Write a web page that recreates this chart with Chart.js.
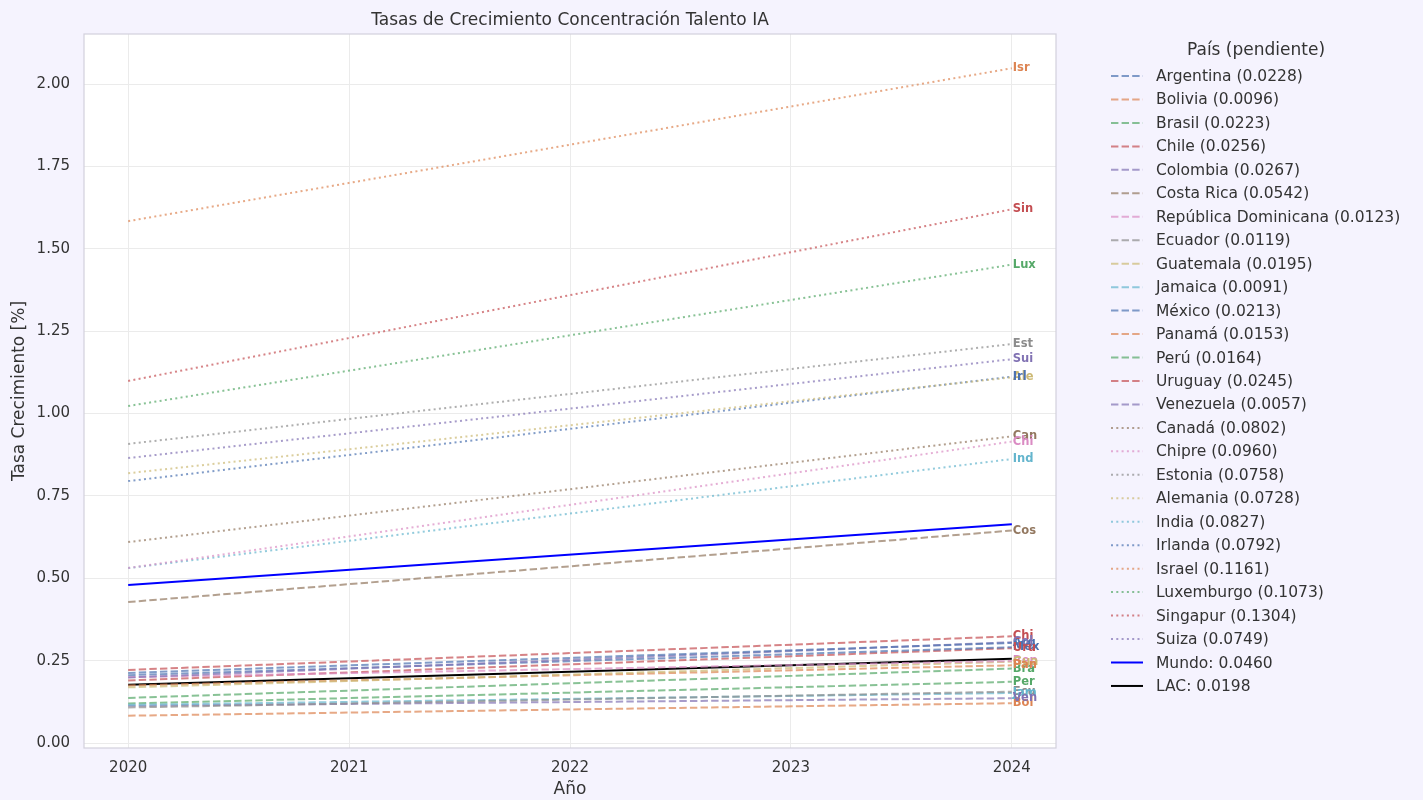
<!DOCTYPE html>
<html>
<head>
<meta charset="utf-8">
<script src="https://cdn.jsdelivr.net/npm/chart.js@4"></script>
<style>
  html, body { margin: 0; padding: 0; background: #f5f3fe; }
  #wrap { width: 1423px; height: 800px; position: relative; }
</style>
</head>
<body>
<div id="wrap"><canvas id="chart"></canvas></div>
<script>
// years on the x axis
var years = [2020, 2024];
var xTicks = [2020, 2021, 2022, 2023, 2024];

// LAC countries (dashed): name, slope from legend, value at 2020 and 2024
var lacNames = ["Argentina", "Bolivia", "Brasil", "Chile", "Colombia", "Costa Rica", "República Dominicana",
                "Ecuador", "Guatemala", "Jamaica", "México", "Panamá", "Perú", "Uruguay", "Venezuela"];
var lacSlopes = ["0.0228", "0.0096", "0.0223", "0.0256", "0.0267", "0.0542", "0.0123",
                 "0.0119", "0.0195", "0.0091", "0.0213", "0.0153", "0.0164", "0.0245", "0.0057"];
var lacStart = [0.213, 0.083, 0.137, 0.222, 0.199, 0.428, 0.200, 0.108, 0.169, 0.116, 0.206, 0.175, 0.120, 0.190, 0.113];
var lacEnd   = [0.304, 0.121, 0.226, 0.324, 0.306, 0.645, 0.249, 0.156, 0.247, 0.152, 0.291, 0.236, 0.186, 0.288, 0.136];

// reference countries (dotted)
var refNames = ["Canadá", "Chipre", "Estonia", "Alemania", "India", "Irlanda", "Israel", "Luxemburgo", "Singapur", "Suiza"];
var refSlopes = ["0.0802", "0.0960", "0.0758", "0.0728", "0.0827", "0.0792", "0.1161", "0.1073", "0.1304", "0.0749"];
var refStart = [0.610, 0.531, 0.908, 0.819, 0.531, 0.795, 1.584, 1.023, 1.099, 0.865];
var refEnd   = [0.931, 0.915, 1.211, 1.110, 0.862, 1.112, 2.048, 1.452, 1.620, 1.165];

var mundo = [0.480, 0.664];
var lac = [0.177, 0.256];

var yTicks = [0, 0.25, 0.5, 0.75, 1.0, 1.25, 1.5, 1.75, 2.0];

var palette = ["76,114,176", "221,132,82", "85,168,104", "196,78,82", "129,114,179",
               "147,120,96", "218,139,195", "140,140,140", "204,185,116", "100,181,205"];

var datasets = [];
function addLine(shortLbl, legendText, v0, v1, rgb, dash) {
    datasets.push({
        label: legendText,
        shortLabel: shortLbl,
        data: [{x: years[0], y: v0}, {x: years[1], y: v1}],
        borderColor: "rgba(" + rgb + ",0.7)",
        labelColor: "rgb(" + rgb + ")",
        borderWidth: 2,
        borderDash: dash,
        pointRadius: 0,
        fill: false
    });
}
for (var i = 0; i < lacNames.length; i++) {
    addLine(lacNames[i].substring(0, 3), lacNames[i] + " (" + lacSlopes[i] + ")",
            lacStart[i], lacEnd[i], palette[i % 10], [7.4, 3.2]);
}
for (var j = 0; j < refNames.length; j++) {
    addLine(refNames[j].substring(0, 3), refNames[j] + " (" + refSlopes[j] + ")",
            refStart[j], refEnd[j], palette[(lacNames.length + j) % 10], [2, 3.3]);
}
datasets.push({label: "Mundo: 0.0460", data: [{x: years[0], y: mundo[0]}, {x: years[1], y: mundo[1]}],
               borderColor: "#0000ff", borderWidth: 2, pointRadius: 0, borderDash: []});
datasets.push({label: "LAC: 0.0198", data: [{x: years[0], y: lac[0]}, {x: years[1], y: lac[1]}],
               borderColor: "#000000", borderWidth: 2, pointRadius: 0, borderDash: []});

var FONT = "'DejaVu Sans', sans-serif";
var TXT = "#333333";

// plot background, end labels, title and legend
var decor = {
    id: "decor",
    beforeDraw: function(chart) {
        var c = chart.ctx, a = chart.chartArea;
        c.save();
        c.fillStyle = "#ffffff";
        c.fillRect(a.left, a.top, a.right - a.left, a.bottom - a.top);
        c.restore();
    },
    afterDraw: function(chart) {
        var c = chart.ctx, a = chart.chartArea;
        var xs = chart.scales.x, ys = chart.scales.y;
        c.save();
        // frame
        c.strokeStyle = "#d3d1dc";
        c.lineWidth = 1.2;
        c.strokeRect(a.left, a.top, a.right - a.left, a.bottom - a.top);

        // end labels
        c.font = "bold 11.5px " + FONT;
        c.textBaseline = "middle";
        c.textAlign = "left";
        chart.data.datasets.forEach(function(ds) {
            if (!ds.shortLabel) return;
            var p = ds.data[ds.data.length - 1];
            c.fillStyle = ds.labelColor;
            c.fillText(ds.shortLabel, xs.getPixelForValue(p.x) + 1, ys.getPixelForValue(p.y));
        });

        // title
        c.fillStyle = TXT;
        c.font = "17px " + FONT;
        c.textAlign = "center";
        c.fillText("Tasas de Crecimiento Concentración Talento IA", (a.left + a.right) / 2, 21);

        // legend
        c.fillText("País (pendiente)", 1256, 51);
        c.font = "15.5px " + FONT;
        c.textAlign = "left";
        chart.data.datasets.forEach(function(ds, k) {
            var y = 76 + k * 23.46;
            c.strokeStyle = ds.borderColor;
            c.lineWidth = ds.borderWidth;
            c.setLineDash(ds.borderDash || []);
            c.beginPath();
            c.moveTo(1111, y);
            c.lineTo(1143, y);
            c.stroke();
            c.setLineDash([]);
            c.fillStyle = TXT;
            c.fillText(ds.label, 1156, y + 1);
        });
        c.restore();
    }
};

new Chart(document.getElementById("chart"), {
    type: "line",
    data: {datasets: datasets},
    options: {
        responsive: true,
        maintainAspectRatio: false,
        animation: false,
        layout: {padding: {left: 0, top: 34, right: 367, bottom: 0}},
        plugins: {legend: {display: false}, tooltip: {enabled: false}},
        scales: {
            x: {
                type: "linear",
                min: 2019.8,
                max: 2024.2,
                afterBuildTicks: function(s) { s.ticks = xTicks.map(function(v) { return {value: v}; }); },
                afterFit: function(s) { s.height = 52; },
                grid: {color: "#ebebeb", drawTicks: false},
                border: {display: false},
                ticks: {color: TXT, font: {family: FONT, size: 15}, padding: 11, maxRotation: 0,
                        callback: function(v) { return String(v); }},
                title: {display: true, text: "Año", color: TXT, font: {family: FONT, size: 17}, padding: {top: 0, bottom: 0}}
            },
            y: {
                min: -0.015,
                max: 2.152,
                afterBuildTicks: function(s) { s.ticks = yTicks.map(function(v) { return {value: v}; }); },
                afterFit: function(s) { s.width = 84; },
                grid: {color: "#ebebeb", drawTicks: false},
                border: {display: false},
                ticks: {color: TXT, font: {family: FONT, size: 15}, padding: 14,
                        callback: function(v) { return Number(v).toFixed(2); }},
                title: {display: true, text: "Tasa Crecimiento [%]", color: TXT, font: {family: FONT, size: 17}, padding: {top: 9, bottom: 0}}
            }
        }
    },
    plugins: [decor]
});
</script>
</body>
</html>
